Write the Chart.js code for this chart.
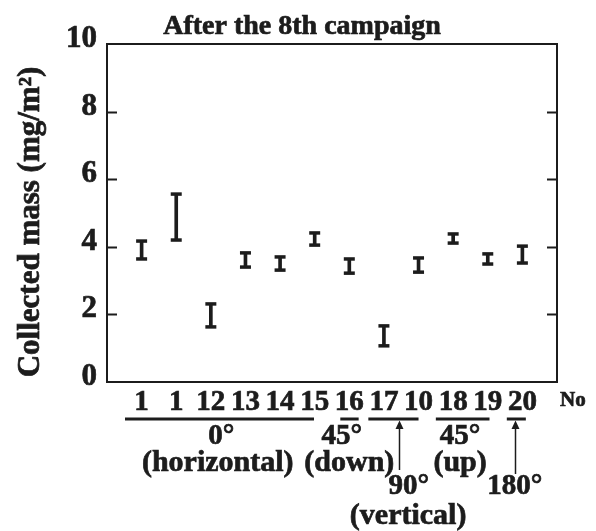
<!DOCTYPE html>
<html>
<head>
<meta charset="utf-8">
<script src="https://cdn.jsdelivr.net/npm/chart.js@4.4.1/dist/chart.umd.min.js"></script>
<style>
  html, body { margin: 0; padding: 0; background: #fff; }
  #wrap { width: 596px; height: 531px; }
</style>
</head>
<body>
<div id="wrap"><canvas id="c" width="596" height="531"></canvas></div>
<script>
// ---- data ----
const categories = ['1', '1', '12', '13', '14', '15', '16', '17', '10', '18', '19', '20'];
const lows  = [3.64, 4.20, 1.63, 3.40, 3.31, 4.05, 3.22, 1.07, 3.25, 4.11, 3.49, 3.52];
const highs = [4.17, 5.56, 2.31, 3.82, 3.70, 4.41, 3.64, 1.66, 3.67, 4.38, 3.79, 4.02];
const yTickValues = [0, 2, 4, 6, 8, 10];
const titleText = 'After the 8th campaign';
const yTitle = 'Collected mass (mg/m²)';
const xUnit = 'No';
// orientation groups: span in category index units (1..12)
const groupSpans = [[0.52, 5.98], [6.74, 7.27], [7.55, 9.0], [9.5, 11.05], [11.55, 12.1]];
const groupAngles = ['0°', '45°', '90°', '45°', '180°'];
const groupNotes  = ['(horizontal)', '(down)', '(vertical)', '(up)', ''];

const INK = '#1c1c1c';
const FONT = "'Liberation Serif', 'Times New Roman', serif";
const STROKE = 0.7;

const annot = {
  id: 'annot',
  afterDraw(chart) {
    const { ctx, chartArea: a, scales } = chart;
    const xs = scales.x, ys = scales.y;
    ctx.save();
    // frame
    ctx.strokeStyle = INK;
    ctx.lineWidth = 2;
    ctx.strokeRect(a.left, a.top, a.right - a.left, a.bottom - a.top);
    // inward tick marks on both sides
    yTickValues.slice(1, -1).forEach(v => {
      const py = Math.round(ys.getPixelForValue(v)) + 0.5;
      ctx.beginPath();
      ctx.moveTo(a.left, py); ctx.lineTo(a.left + 10, py);
      ctx.moveTo(a.right, py); ctx.lineTo(a.right - 10, py);
      ctx.stroke();
    });
    ctx.fillStyle = INK;
    ctx.textAlign = 'center';
    ctx.textBaseline = 'middle';
    const text = (t, x, y) => {
      ctx.lineWidth = STROKE;
      ctx.fillText(t, x, y);
      ctx.strokeText(t, x, y);
    };
    // title
    ctx.font = 'bold 28px ' + FONT;
    text(titleText, 302, 27);
    // y title
    ctx.font = 'bold 31px ' + FONT;
    ctx.save();
    ctx.translate(31, 222);
    ctx.rotate(-Math.PI / 2);
    text(yTitle, 0, 0);
    ctx.restore();
    // unit label
    ctx.font = 'bold 21px ' + FONT;
    ctx.textAlign = 'left';
    text(xUnit, a.right + 3, a.bottom + 19);
    // group underlines
    const uy = a.bottom + 37;
    ctx.lineWidth = 3;
    groupSpans.forEach(([s, e]) => {
      ctx.beginPath();
      ctx.moveTo(xs.getPixelForValue(s), uy);
      ctx.lineTo(xs.getPixelForValue(e), uy);
      ctx.stroke();
    });
    // arrows for 90 and 180
    const arrow = (idx, yEnd) => {
      const px = Math.round(xs.getPixelForValue(idx)) + 0.5;
      ctx.lineWidth = 1.5;
      ctx.beginPath();
      ctx.moveTo(px, uy + 8); ctx.lineTo(px, yEnd);
      ctx.stroke();
      ctx.beginPath();
      ctx.moveTo(px, uy + 1.5);
      ctx.lineTo(px - 4, uy + 10);
      ctx.lineTo(px + 4, uy + 10);
      ctx.closePath();
      ctx.fill();
    };
    arrow(8.44, a.bottom + 88);
    arrow(11.78, a.bottom + 92);
    // labels
    ctx.textAlign = 'center';
    ctx.textBaseline = 'middle';
    ctx.font = 'bold 29px ' + FONT;
    const put = (t, idx, dy) => text(t, xs.getPixelForValue(idx), a.bottom + dy);
    put(groupAngles[0], 3.3, 55);
    put(groupAngles[1], 6.78, 55);
    put(groupAngles[3], 10.2, 55);
    put(groupAngles[2], 8.72, 105);
    put(groupAngles[4], 11.78, 105);
    ctx.font = 'bold 30px ' + FONT;
    put(groupNotes[0], 3.2, 81);
    put(groupNotes[1], 7.0, 81);
    put(groupNotes[3], 10.2, 81);
    put(groupNotes[2], 8.7, 134);
    ctx.restore();
  }
};

const points = (arr) => arr.map((v, i) => ({ x: i + 1, y: v }));

new Chart(document.getElementById('c'), {
  type: 'bar',
  data: {
    datasets: [
      {
        type: 'bar',
        data: categories.map((c, i) => ({ x: i + 1, y: [lows[i], highs[i]] })),
        backgroundColor: INK,
        borderWidth: 0,
        barThickness: 3
      },
      {
        type: 'scatter',
        data: points(highs),
        pointStyle: 'line',
        radius: 5.5,
        borderWidth: 3.5,
        borderColor: INK
      },
      {
        type: 'scatter',
        data: points(lows),
        pointStyle: 'line',
        radius: 5.5,
        borderWidth: 3.5,
        borderColor: INK
      }
    ]
  },
  options: {
    responsive: false,
    animation: false,
    events: [],
    layout: { padding: { left: 0, right: 39, top: 44, bottom: 0 } },
    plugins: {
      legend: { display: false },
      tooltip: { enabled: false },
      title: { display: false }
    },
    scales: {
      x: {
        type: 'linear',
        min: 0,
        max: 13,
        offset: false,
        grid: { display: false, drawTicks: false },
        border: { display: false },
        ticks: {
          stepSize: 1,
          autoSkip: false,
          maxRotation: 0,
          padding: 3,
          color: INK,
          textStrokeColor: INK,
          textStrokeWidth: STROKE,
          font: { family: FONT, size: 29, weight: 'bold' },
          callback: (v) => categories[v - 1] ?? ''
        },
        afterFit: (s) => { s.height = 149; }
      },
      y: {
        min: 0,
        max: 10,
        grid: { display: false, drawTicks: false },
        border: { display: false },
        ticks: {
          stepSize: 2,
          padding: 10,
          labelOffset: -5,
          color: INK,
          textStrokeColor: INK,
          textStrokeWidth: STROKE,
          font: { family: FONT, size: 31, weight: 'bold' }
        },
        afterFit: (s) => { s.width = 107; }
      }
    }
  },
  plugins: [annot]
});
</script>
</body>
</html>
